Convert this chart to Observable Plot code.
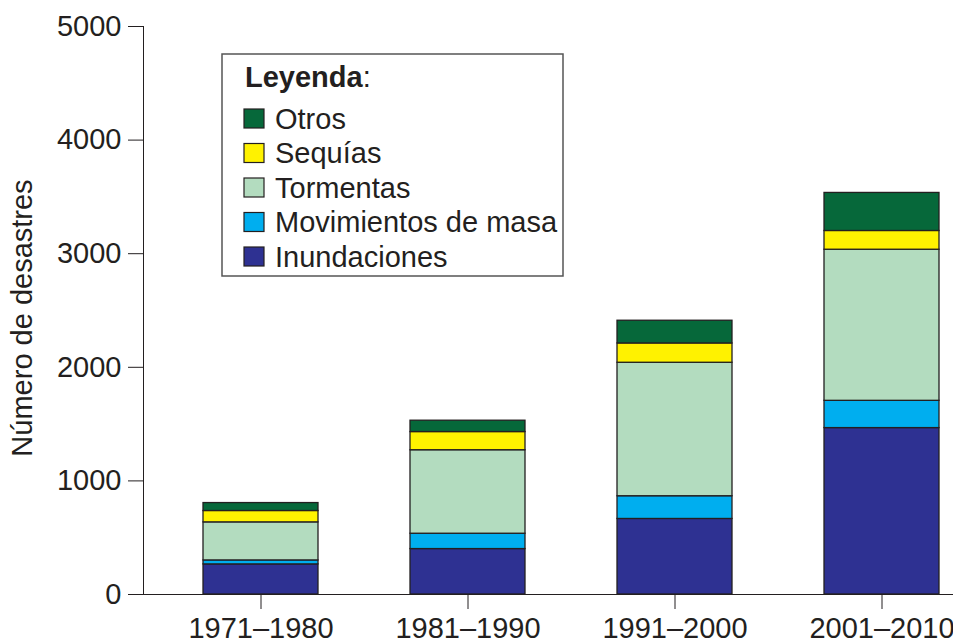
<!DOCTYPE html>
<html>
<head>
<meta charset="utf-8">
<script src="https://cdn.jsdelivr.net/npm/d3@7"></script>
<script src="https://cdn.jsdelivr.net/npm/@observablehq/plot@0.6"></script>
<style>
  html, body { margin: 0; padding: 0; background: white; }
  #wrap { position: relative; width: 953px; height: 643px; overflow: hidden; }
  #wrap svg { position: absolute; left: 0; top: 0; }
</style>
</head>
<body>
<div id="wrap"></div>
<script>
// ---- data ----
const periods = ["1971–1980", "1981–1990", "1991–2000", "2001–2010"];
const types = ["Inundaciones", "Movimientos de masa", "Tormentas", "Sequías", "Otros"];
const inundaciones = [265, 400, 665, 1465];
const movimientos = [35, 135, 200, 240];
const tormentas = [335, 735, 1175, 1330];
const sequias = [100, 160, 170, 165];
const otros = [70, 100, 200, 335];
const colors = ["#2e3192", "#00aeef", "#b3dcbf", "#fff200", "#06683a"];
const yTicks = [0, 1000, 2000, 3000, 4000, 5000];
const legendOrder = ["Otros", "Sequías", "Tormentas", "Movimientos de masa", "Inundaciones"];
const yLabel = "Número de desastres";
const legendTitle = "Leyenda";

const series = [inundaciones, movimientos, tormentas, sequias, otros];
const rows = [];
periods.forEach((p, i) => {
  types.forEach((t, j) => rows.push({period: p, type: t, value: series[j][i]}));
});

const ink = "#231f20";
const font = "'Liberation Sans', Arial, sans-serif";

const chart = Plot.plot({
  width: 953,
  height: 643,
  marginLeft: 143,
  marginRight: 0,
  marginTop: 26,
  marginBottom: 49,
  style: {fontFamily: font, fontSize: "29px", color: ink, background: "white", overflow: "visible"},
  x: {domain: periods, range: [155, 986], paddingInner: 0.446, paddingOuter: 0.223,
      tickSize: 15, tickPadding: 8, label: null},
  y: {domain: [0, 5000], ticks: yTicks, tickSize: 15, tickPadding: 7, line: true,
      label: null, tickFormat: d => String(d)},
  color: {domain: types, range: colors},
  marks: [
    Plot.barY(rows, {x: "period", y: "value", fill: "type", order: types,
      stroke: ink, strokeWidth: 1.3}),
    Plot.ruleY([0], {stroke: ink, strokeWidth: 1.2}),
    Plot.text([yLabel], {frameAnchor: "left", text: d => d, rotate: -90,
      dx: -121, dy: 7.5, fontSize: 29, fill: ink, lineAnchor: "middle", textAnchor: "middle"})
  ]
});
document.getElementById("wrap").appendChild(chart);

// legend overlay
const W = 953, H = 643;
const svg = d3.select("#wrap").append("svg")
  .attr("width", W).attr("height", H)
  .style("font-family", font);

svg.append("rect")
  .attr("x", 222).attr("y", 54).attr("width", 341).attr("height", 222)
  .attr("fill", "white").attr("stroke", "#555").attr("stroke-width", 1.5);

const title = svg.append("text")
  .attr("x", 245).attr("y", 87)
  .attr("font-size", 29).attr("fill", ink);
title.append("tspan").attr("font-weight", "bold").text(legendTitle);
title.append("tspan").text(":");

const colorOf = d3.scaleOrdinal(types, colors);
legendOrder.forEach((t, i) => {
  const cy = 118.5 + 34.5 * i;
  svg.append("rect")
    .attr("x", 244).attr("y", cy - 9.5).attr("width", 20).attr("height", 19)
    .attr("fill", colorOf(t)).attr("stroke", ink).attr("stroke-width", 1.2);
  svg.append("text")
    .attr("x", 275).attr("y", cy + 10)
    .attr("font-size", 29).attr("fill", ink)
    .text(t);
});
</script>
</body>
</html>
